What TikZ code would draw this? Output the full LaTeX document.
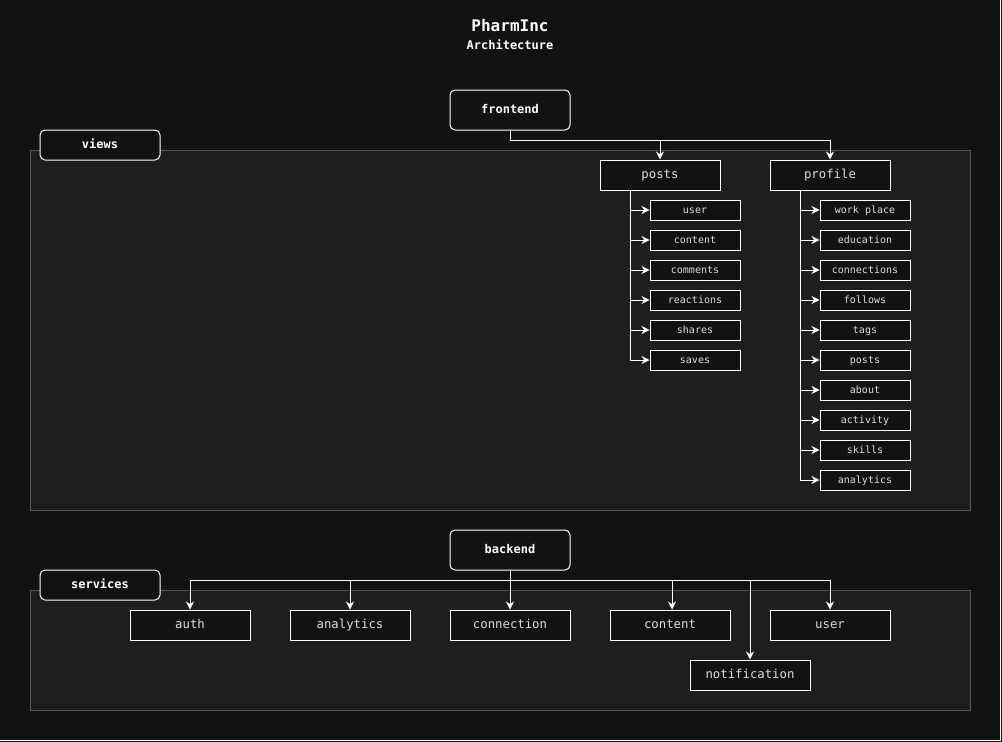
\documentclass[tikz,border=0pt]{standalone}
\usepackage{fontspec}
\setmonofont{DejaVu Sans Mono}
\usetikzlibrary{arrows.meta}
\definecolor{bgc}{HTML}{121212}
\definecolor{panelc}{HTML}{1E1E21}
\definecolor{panelline}{HTML}{555555}
\definecolor{txtc}{HTML}{DDDDDD}
\tikzset{
  panel/.style={draw=panelline, fill=panelc, line width=1pt},
  grouplabel/.style={draw=white, fill=bgc, rounded corners=5pt, line width=1pt, minimum width=120pt, minimum height=30pt, text=white, font=\ttfamily\bfseries\fontsize{12}{14}\selectfont, inner sep=0pt, text height=8pt, text depth=1pt},
  tallbox/.style={grouplabel, minimum height=40pt},
  mainbox/.style={draw=white, fill=bgc, line width=1pt, minimum width=120pt, minimum height=30pt, text=txtc, font=\ttfamily\fontsize{12.3}{14}\selectfont, inner sep=0pt, text height=8pt, text depth=1pt},
  smallbox/.style={draw=white, fill=bgc, line width=1pt, minimum width=90pt, minimum height=20pt, text=txtc, font=\ttfamily\fontsize{10}{12}\selectfont, inner sep=0pt, text height=7pt, text depth=1pt},
  conn/.style={draw=white, line width=1pt, -{Stealth[length=8pt,width=8pt]}},
  plain/.style={draw=white, line width=1pt},
}
\begin{document}
\begin{tikzpicture}[x=1pt,y=-1pt]
\fill[bgc] (0,0) rectangle (1002,742);
\useasboundingbox (0,0) rectangle (1002,742);
\draw[white,line width=1.5pt] (1000.5,0) -- (1000.5,740.5) -- (0,740.5);

% title
\node[text=white, font=\ttfamily\bfseries\fontsize{16}{18}\selectfont] (title) at (510,26) {PharmInc};
\node[text=white, font=\ttfamily\bfseries\fontsize{12}{14}\selectfont] (subtitle) at (510,45) {Architecture};

% panels
\draw[panel] (30,150) rectangle (970,510);
\draw[panel] (30,590) rectangle (970,710);

% group labels
\node[grouplabel] (views) at (100,145) {views};
\node[grouplabel] (services) at (100,585) {services};

% frontend
\node[tallbox] (frontend) at (510,110) {frontend};
\node[mainbox] (posts) at (660,175) {posts};
\node[mainbox] (profile) at (830,175) {profile};
\coordinate (fj) at (510,140);
\draw[plain] (frontend.south) -- (fj);
\draw[conn] (fj) -| (posts.north);
\draw[conn] (fj) -| (profile.north);

% posts children
\foreach \t [count=\i] in {user,content,comments,reactions,shares,saves}{
  \node[smallbox] (p\i) at (695,180+30*\i) {\t};
  \draw[conn] (posts.south -| 630,0) |- (p\i.west);
}
% profile children
\foreach \t [count=\i] in {work place,education,connections,follows,tags,posts,about,activity,skills,analytics}{
  \node[smallbox] (f\i) at (865,180+30*\i) {\t};
  \draw[conn] (profile.south -| 800,0) |- (f\i.west);
}

% backend
\node[tallbox] (backend) at (510,550) {backend};
\node[mainbox] (auth) at (190,625) {auth};
\node[mainbox] (analytics) at (350,625) {analytics};
\node[mainbox] (connection) at (510,625) {connection};
\node[mainbox] (content) at (670,625) {content};
\node[mainbox] (user) at (830,625) {user};
\node[mainbox] (notification) at (750,675) {notification};
\coordinate (bj) at (510,580);
\draw[plain] (backend.south) -- (bj);
\draw[conn] (bj) -| (auth.north);
\draw[conn] (bj) -| (analytics.north);
\draw[conn] (bj) -- (connection.north);
\draw[conn] (bj) -| ([xshift=2pt]content.north);
\draw[conn] (bj) -| (notification.north);
\draw[conn] (bj) -| (user.north);
\end{tikzpicture}
\end{document}
